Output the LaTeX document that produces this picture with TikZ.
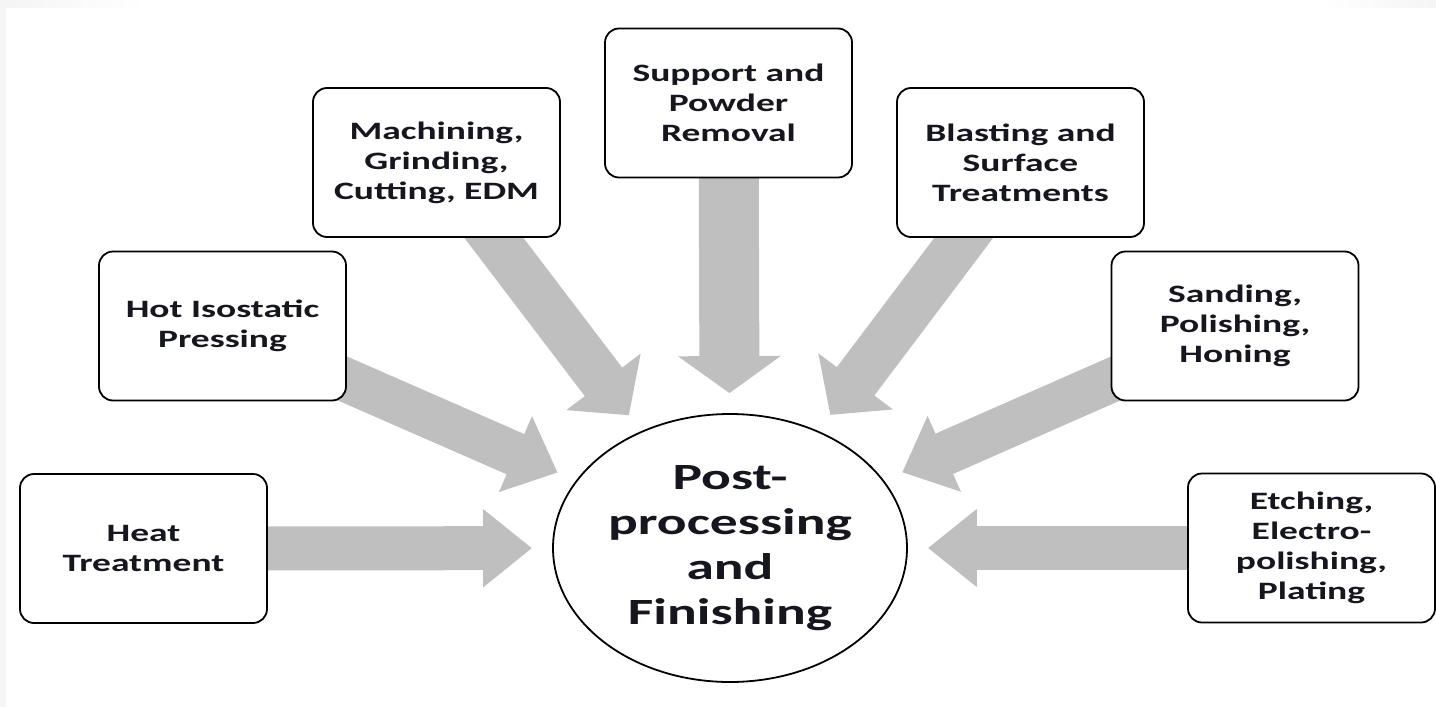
\documentclass[tikz,border=0pt]{standalone}
\usepackage{fontspec}
\setmainfont{Carlito}[FakeStretch=1.5]
\usetikzlibrary{shapes.geometric, arrows.meta, backgrounds}
\definecolor{arrowgray}{RGB}{191,191,191}
\definecolor{inkblack}{RGB}{22,22,30}
\tikzset{
    stepbox/.style={draw, line width=1.8pt, rounded corners=14pt, fill=white,
        minimum width=247pt, minimum height=149pt, inner sep=0pt, align=center,
        text=inkblack, font=\fontsize{25}{30}\selectfont\bfseries},
    hub/.style={ellipse, draw, line width=1.8pt, fill=white,
        minimum width=354pt, minimum height=268pt, inner sep=0pt, align=center,
        text=inkblack, font=\fontsize{37}{45}\selectfont\bfseries},
    flow/.style n args={3}{draw=arrowgray, line width=#1,
        -{Triangle[length=#3, width=#2]}, shorten >=20pt}
}

\begin{document}
\begin{tikzpicture}[x=1pt, y=-1pt]
    \useasboundingbox (0,0) rectangle (1436,707);
    % screenshot edge
    \fill[gray!8] (0,0) rectangle (6,707);
    \shade[left color=gray!8, right color=white] (6,0) rectangle (145,7);
    \shade[left color=white, right color=gray!8] (1320,0) rectangle (1436,7);
    % steps
    \node[stepbox] (heat) at (143.5,548.5) {Heat\\Treatment};
    \node[stepbox] (hip) at (222.5,326) {Hot Isostatic\\Pressing};
    \node[stepbox] (machining) at (436.5,162.5) {Machining,\\Grinding,\\Cutting, EDM};
    \node[stepbox] (support) at (728.5,103) {Support and\\Powder\\Removal};
    \node[stepbox] (blasting) at (1020.5,162.5) {Blasting and\\Surface\\Treatments};
    \node[stepbox] (sanding) at (1235,326) {Sanding,\\Polishing,\\Honing};
    \node[stepbox] (etching) at (1311.5,548) {Etching,\\Electro-\\polishing,\\Plating};
    \node[hub] (post) at (730,548) {Post-\\processing\\and\\Finishing};
    \begin{pgfonlayer}{background}
        \draw[flow={44pt}{75pt}{49pt}] (heat.center) -- (post);
        \draw[flow={44pt}{80pt}{46pt}] (hip.center) -- (post);
        \draw[flow={47pt}{91pt}{42pt}] (machining.center) -- (post);
        \draw[flow={60pt}{101pt}{37pt}] (support.center) -- (post);
        \draw[flow={47pt}{91pt}{42pt}] (blasting.center) -- (post);
        \draw[flow={44pt}{80pt}{46pt}] (sanding.center) -- (post);
        \draw[flow={44pt}{75pt}{49pt}] (etching.center) -- (post);
    \end{pgfonlayer}
\end{tikzpicture}
\end{document}
